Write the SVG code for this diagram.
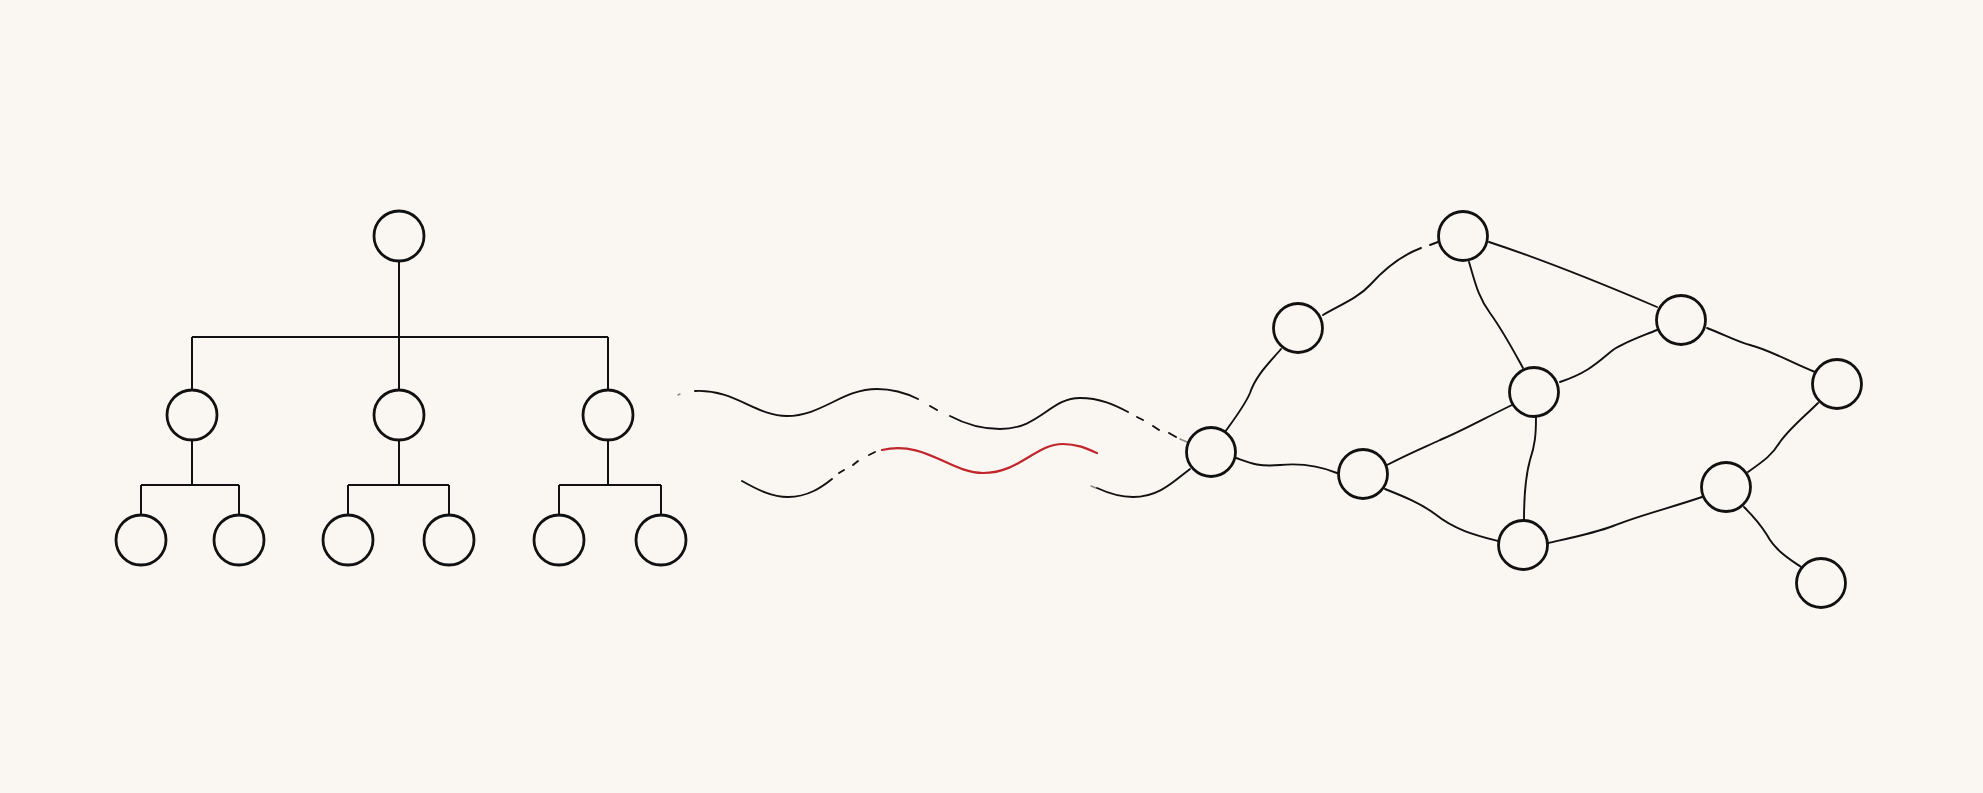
<svg xmlns="http://www.w3.org/2000/svg" width="1983" height="793" viewBox="0 0 1983 793">
<style>
.node{fill:#faf7f2;stroke:#111;stroke-width:2.8}
.ln{fill:none;stroke:#111;stroke-width:1.9;stroke-linecap:round}
.tr{fill:none;stroke:#111;stroke-width:2}
.red{fill:none;stroke:#c0262b;stroke-width:2.2;stroke-linecap:round}
.faint{fill:none;stroke:#888;stroke-width:1.4;stroke-linecap:round}
</style>
<rect x="0" y="0" width="1983" height="793" fill="#faf7f2"/>
<g id="connectors">
<path class="tr" d="M399,261V337M192,337H608M192,337V390M399,337V390M608,337V390"/>
<path class="tr" d="M192,440V485M141,485H239M141,485V515M239,485V515"/>
<path class="tr" d="M399,440V485M348,485H449M348,485V515M449,485V515"/>
<path class="tr" d="M608,440V485M559,485H661M559,485V515M661,485V515"/>
<path class="faint" d="M678,395L680,394"/>
<path class="ln" d="M695,391C735,389 755,416 787,416C822,416 842,389 877,389C895,389 908,394 918,399"/>
<path class="ln" d="M930,406L937,410M1137,417L1143,420M1153,426L1159,430M1169,433L1176,437"/>
<path class="ln" d="M950,416C965,424 980,429 1000,429C1040,429 1050,398 1080,398C1100,398 1115,405 1128,412"/>
<path class="faint" d="M1180,439L1187,442"/>
<path class="ln" d="M742,481C758,490 772,497 788,497C808,497 822,487 832,479"/>
<path class="ln" d="M839,473L844,470M853,465L858,461M869,455L875,452"/>
<path class="red" d="M882,450C925,440 950,473 983,473C1020,473 1035,444 1063,444C1078,444 1088,449 1097,453"/>
<path class="faint" d="M1091,486L1096,488"/>
<path class="ln" d="M1097,488C1110,494 1120,497 1133,497C1160,497 1175,480 1190,469"/>
<path class="ln" d="M1225,432C1235,418 1245,405 1250,393C1256,375 1270,362 1281,349"/>
<path class="ln" d="M1323,315C1340,305 1358,298 1370,285C1388,265 1405,254 1421,248M1430,245L1438,242"/>
<path class="ln" d="M1489,242C1550,262 1610,287 1657,307"/>
<path class="ln" d="M1469,262C1475,282 1478,297 1490,313C1503,331 1512,348 1523,368"/>
<path class="ln" d="M1657,330C1640,337 1625,342 1613,350C1600,360 1590,372 1560,382"/>
<path class="ln" d="M1236,458C1250,463 1258,467 1280,465C1300,463 1320,466 1337,473"/>
<path class="ln" d="M1387,465C1410,453 1425,447 1440,440C1460,432 1485,418 1512,405"/>
<path class="ln" d="M1385,489C1405,497 1420,503 1435,514C1455,530 1475,535 1498,541"/>
<path class="ln" d="M1536,417C1536,435 1535,445 1530,460C1525,478 1524,495 1524,520"/>
<path class="ln" d="M1548,543C1570,538 1595,533 1613,526C1640,515 1670,508 1702,497"/>
<path class="ln" d="M1748,472C1765,460 1772,455 1780,442C1790,428 1805,416 1818,403"/>
<path class="ln" d="M1707,328C1725,335 1740,343 1750,345C1770,350 1790,362 1815,372"/>
<path class="ln" d="M1744,507C1755,518 1762,527 1767,535C1775,550 1788,558 1801,567"/>
</g>
<g id="t-root"><circle class="node" cx="399" cy="236" r="25"/></g>
<g id="t-m1"><circle class="node" cx="192" cy="415" r="25"/></g>
<g id="t-m2"><circle class="node" cx="399" cy="415" r="25"/></g>
<g id="t-m3"><circle class="node" cx="608" cy="415" r="25"/></g>
<g id="t-l1"><circle class="node" cx="141" cy="540" r="25"/></g>
<g id="t-l2"><circle class="node" cx="239" cy="540" r="25"/></g>
<g id="t-l3"><circle class="node" cx="348" cy="540" r="25"/></g>
<g id="t-l4"><circle class="node" cx="449" cy="540" r="25"/></g>
<g id="t-l5"><circle class="node" cx="559" cy="540" r="25"/></g>
<g id="t-l6"><circle class="node" cx="661" cy="540" r="25"/></g>
<g id="n-a"><circle class="node" cx="1211" cy="452" r="24.5"/></g>
<g id="n-b"><circle class="node" cx="1298" cy="328" r="24.5"/></g>
<g id="n-c"><circle class="node" cx="1463" cy="236" r="24.5"/></g>
<g id="n-d"><circle class="node" cx="1681" cy="320" r="24.5"/></g>
<g id="n-e"><circle class="node" cx="1534" cy="392" r="24.5"/></g>
<g id="n-f"><circle class="node" cx="1363" cy="474" r="24.5"/></g>
<g id="n-g"><circle class="node" cx="1523" cy="545" r="24.5"/></g>
<g id="n-h"><circle class="node" cx="1837" cy="384" r="24.5"/></g>
<g id="n-i"><circle class="node" cx="1726" cy="487" r="24.5"/></g>
<g id="n-j"><circle class="node" cx="1821" cy="583" r="24.5"/></g>
</svg>
